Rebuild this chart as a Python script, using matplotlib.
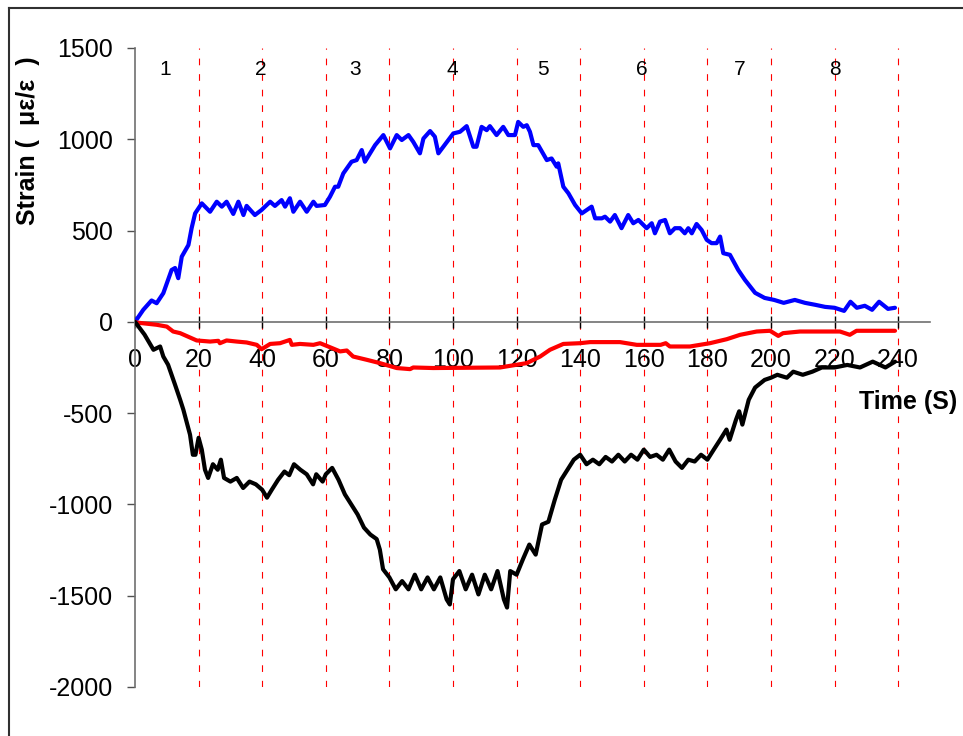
"""
Strain vs time for three gauges, with the eight loading stages marked.
"""

import matplotlib

matplotlib.use("Agg")
import matplotlib.pyplot as plt
from matplotlib.lines import Line2D

plt.rcParams["font.family"] = ["Liberation Sans", "DejaVu Sans"]

# blue gauge
blue_t = [0, 2.6, 5.2, 6.8, 8.9, 11.5, 12.6, 13.6, 14.7, 16.8, 17.8, 18.9, 21.0, 23.6,
          25.7, 27.3, 28.8, 30.9, 32.5, 34.1, 35.1, 37.7, 39.8, 42.5, 44.0, 46.1, 47.2,
          48.7, 49.8, 51.9, 54.0, 56.1, 57.1, 59.7, 61.3, 62.9, 63.9, 65.5, 68.1, 69.7,
          71.3, 72.3, 75.5, 78.1, 80.2, 82.3, 83.9, 86.0, 87.5, 89.6, 90.7, 92.8, 94.3,
          95.4, 100.1, 102.2, 104.3, 106.4, 107.4, 109.0, 110.6, 111.6, 113.7, 115.8,
          117.4, 119.5, 120.5, 122.1, 123.2, 124.2, 125.3, 126.8, 129.5, 131.0, 132.6,
          133.1, 134.7, 136.3, 138.4, 140.5, 143.6, 144.7, 146.8, 147.8, 149.4, 150.9,
          153.0, 155.1, 156.7, 158.3, 160.9, 162.5, 163.5, 165.1, 166.7, 168.2, 169.8,
          171.4, 172.9, 174.0, 175.1, 176.6, 178.2, 179.8, 181.3, 182.9, 184.0, 185.0,
          187.1, 189.7, 191.8, 195.0, 198.0, 201.0, 204.0, 207.5, 210.7, 214.0, 217.0,
          220.0, 223.0, 225.0, 227.0, 229.5, 231.8, 234.0, 236.8, 239.0]
blue_v = [0, 66, 117, 102, 157, 284, 295, 239, 357, 421, 513, 594, 649, 603,
          658, 631, 658, 591, 658, 585, 635, 585, 613, 658, 635, 667, 631,
          677, 603, 658, 603, 658, 635, 640, 685, 740, 740, 813, 877, 886,
          941, 877, 968, 1023, 950, 1023, 996, 1023, 986, 923, 1004, 1045, 1014,
          923, 1032, 1041, 1072, 959, 959, 1068, 1050, 1072, 1023, 1068,
          1023, 1023, 1095, 1068, 1077, 1041, 968, 968, 886, 895, 850,
          868, 740, 704, 640, 594, 631, 567, 567, 576, 549, 585,
          513, 585, 540, 558, 513, 540, 485, 549, 558, 485, 513,
          513, 485, 513, 485, 536, 503, 449, 431, 431, 467, 376,
          367, 284, 230, 159, 131, 120, 104, 120, 104, 93, 82,
          77, 60, 110, 77, 88, 66, 110, 71, 77]

# red gauge
red_t = [0, 0.5, 6.8, 10.0, 12.0, 14.2, 19.4, 23.6, 26.2, 26.7, 28.8, 32.0, 35.1, 38.3,
         39.8, 42.5, 45.6, 48.7, 49.3, 51.9, 56.1, 58.2, 61.3, 64.5, 66.6, 68.6, 72.9,
         77.0, 82.3, 86.5, 87.5, 93.8, 114.8, 123.2, 127.4, 130.5, 134.7, 139.9, 143.1,
         152.5, 157.8, 165.3, 166.9, 168.2, 174.5, 180.8, 186.1, 190.3, 195.5, 199.7,
         202.3, 203.8, 209.1, 221.7, 224.8, 226.9, 239.0]
red_v = [0, -4, -16, -26, -53, -62, -102, -108, -104, -117, -102, -108, -113, -126,
         -150, -121, -117, -99, -126, -121, -126, -117, -139, -162, -157, -190, -208,
         -226, -253, -259, -250, -253, -250, -226, -190, -153, -121, -117, -111,
         -111, -126, -126, -117, -135, -135, -117, -95, -71, -53, -49,
         -77, -62, -53, -53, -71, -49, -49]

# black gauge
black_t = [0, 3.0, 5.8, 7.9, 8.9, 10.4, 12.6, 14.2, 15.2, 17.3, 18.2, 19.0, 20.0, 21.0,
           22.0, 23.0, 24.5, 26.0, 27.0, 28.0, 30.0, 32.0, 34.0, 36.0, 38.0, 40.0, 41.5,
           43.0, 45.0, 47.0, 48.5, 50.0, 52.0, 54.0, 56.0, 57.0, 59.0, 60.0, 62.0, 64.0,
           66.0, 68.0, 70.0, 72.0, 74.0, 76.0, 77.0, 78.0, 80.0, 82.0, 84.0, 86.0, 88.0,
           90.0, 92.0, 94.0, 96.0, 98.0, 99.0, 100.0, 102.0, 104.0, 106.0, 108.0, 110.0,
           112.0, 114.0, 116.0, 117.0, 118.0, 120.0, 122.0, 124.0, 126.0, 128.0, 130.0,
           132.0, 134.0, 136.0, 138.0, 140.0, 142.0, 144.0, 146.0, 148.0, 150.0, 152.0,
           154.0, 156.0, 158.0, 160.0, 162.0, 164.0, 166.0, 168.0, 170.0, 172.0, 174.0,
           176.0, 178.0, 180.0, 182.0, 184.0, 186.0, 187.0, 189.0, 190.0, 191.0, 193.0,
           195.0, 198.0, 200.0, 202.0, 205.0, 207.0, 210.0, 213.0, 216.0, 220.0, 224.0,
           228.0, 232.0, 236.0, 239.0]
black_v = [0, -70, -153, -135, -190, -235, -345, -427, -481, -618, -728, -728, -635, -700,
           -810, -855, -780, -810, -755, -855, -875, -855, -910, -875, -890, -920, -963,
           -920, -865, -820, -840, -780, -810, -835, -890, -835, -875, -835, -800, -865,
           -945, -1000, -1055, -1127, -1165, -1190, -1248, -1355, -1400, -1465, -1420,
           -1465, -1385, -1465, -1400, -1465, -1400, -1520, -1548, -1410, -1365, -1465,
           -1385, -1493, -1385, -1465, -1365, -1520, -1565, -1365, -1385, -1300, -1220,
           -1275, -1110, -1095, -975, -865, -810, -755, -728, -780, -755, -780, -740,
           -765, -728, -765, -728, -755, -700, -740, -728, -755, -700, -765, -800, -755,
           -765, -728, -755, -700, -646, -590, -646, -536, -490, -563, -427, -360, -318,
           -306, -290, -306, -273, -290, -273, -250, -250, -236, -250, -218, -250, -218]

stage_x = [20, 40, 60, 80, 100, 120, 140, 160, 180, 200, 220, 240]
stage_names = ["1", "2", "3", "4", "5", "6", "7", "8"]
stage_label_t = [9.4, 39.6, 69.2, 99.7, 128.3, 159.4, 190.3, 220.1]

x_ticks = list(range(0, 241, 20))
y_ticks = list(range(-2000, 1501, 500))


def main() -> None:
    fig = plt.figure(figsize=(9.63, 7.36), dpi=100)
    ax = fig.add_axes([0.1402, 0.0666, 0.8255, 0.8682])

    for x in stage_x:
        ax.axvline(x, color="#ff0000", lw=0.8, ls=(0, (6, 8)), zorder=1)

    line_kw = dict(lw=3, solid_joinstyle="round", solid_capstyle="round")
    ax.plot(blue_t, blue_v, color="#0000ff", zorder=3, **line_kw)
    ax.plot(red_t, red_v, color="#ff0000", zorder=3, **line_kw)
    ax.plot(black_t, black_v, color="black", zorder=4, **line_kw)

    for t, name in zip(stage_label_t, stage_names):
        ax.text(t, 1380, name, fontsize=15, ha="center", va="center")

    ax.set_xlim(0, 250)
    ax.set_ylim(-2000, 1500)
    ax.set_xticks(x_ticks)
    ax.set_yticks(y_ticks)
    ax.set_yticklabels([str(v) for v in y_ticks])

    ax.spines["top"].set_visible(False)
    ax.spines["right"].set_visible(False)
    ax.spines["bottom"].set_position(("data", 0))
    ax.spines["bottom"].set_color("#707070")
    ax.spines["left"].set_color("#707070")
    ax.spines["bottom"].set_linewidth(1.2)
    ax.spines["left"].set_linewidth(1.2)
    ax.spines["bottom"].set_zorder(2)

    ax.tick_params(axis="x", direction="inout", length=9, width=1, color="black",
                   labelsize=18, pad=14)
    ax.tick_params(axis="y", direction="out", length=6, width=1, color="#505050",
                   labelsize=18, pad=10)

    fig.text(0.9435, 0.4538, "Time (S)", fontsize=18, fontweight="bold",
             ha="center", va="center")
    fig.text(0.029, 0.694, "Strain (  με/ε  )", fontsize=18, fontweight="bold",
             rotation=90, ha="center", va="bottom")

    # frame (only left and top edges fall inside the image)
    fig.add_artist(Line2D([9 / 963, 9 / 963], [0, 1 - 8 / 736], color="#303030",
                          lw=1.5, transform=fig.transFigure))
    fig.add_artist(Line2D([9 / 963, 1], [1 - 8 / 736, 1 - 8 / 736], color="#303030",
                          lw=1.5, transform=fig.transFigure))

    fig.savefig("out.png", dpi=100)
    plt.close(fig)


if __name__ == "__main__":
    main()
